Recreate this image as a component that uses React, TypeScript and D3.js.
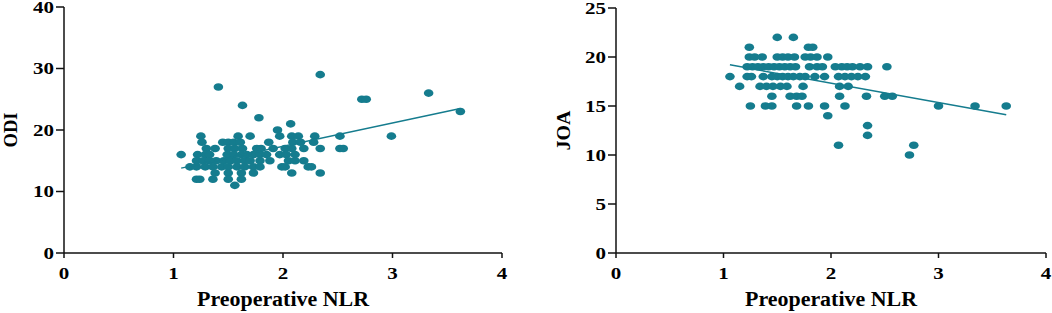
import React, { useEffect, useRef } from "react";
import * as d3 from "d3";

// Preoperative NLR vs ODI
const odiNlr = [
  2.34, 1.41, 3.33, 2.72, 2.76, 1.63, 3.62, 1.78, 2.07, 1.95,
  1.25, 1.59, 1.7, 1.97, 2.08, 2.14, 2.29, 2.52, 2.99,
  1.26, 1.45, 1.5, 1.55, 1.61, 1.87, 2.09, 2.16, 2.28,
  1.3, 1.38, 1.5, 1.56, 1.63, 1.76, 1.8, 1.91, 2.02, 2.08, 2.19, 2.34, 2.52, 2.55,
  1.07, 1.22, 1.29, 1.33, 1.49, 1.55, 1.62, 1.67, 1.73, 1.79, 1.85, 1.97, 2.03, 2.11,
  1.21, 1.27, 1.33, 1.39, 1.46, 1.52, 1.58, 1.65, 1.7, 1.79, 1.88, 2.05, 2.11, 2.19,
  1.15, 1.21, 1.29, 1.36, 1.44, 1.5, 1.58, 1.65, 1.73, 1.79, 1.99, 2.02, 2.23, 2.26,
  1.38, 1.5, 1.62, 1.73, 2.08, 2.34,
  1.21, 1.24, 1.36, 1.5, 1.62,
  1.56,
];
const odiScore = [
  29, 27, 26, 25, 25, 24, 23, 22, 21, 20,
  19, 19, 19, 19, 19, 19, 19, 19, 19,
  18, 18, 18, 18, 18, 18, 18, 18, 18,
  17, 17, 17, 17, 17, 17, 17, 17, 17, 17, 17, 17, 17, 17,
  16, 16, 16, 16, 16, 16, 16, 16, 16, 16, 16, 16, 16, 16,
  15, 15, 15, 15, 15, 15, 15, 15, 15, 15, 15, 15, 15, 15,
  14, 14, 14, 14, 14, 14, 14, 14, 14, 14, 14, 14, 14, 14,
  13, 13, 13, 13, 13, 13,
  12, 12, 12, 12, 12,
  11,
];
const odiFitX = [1.07, 3.62];
const odiFitY = [13.8, 23.5];

// Preoperative NLR vs JOA
const joaNlr = [
  1.5, 1.65,
  1.24, 1.79, 1.83,
  1.24, 1.29, 1.36, 1.5, 1.55, 1.6, 1.66, 1.76, 1.81, 1.87, 1.97,
  1.22, 1.27, 1.32, 1.37, 1.42, 1.47, 1.52, 1.57, 1.62, 1.67, 1.8, 1.87, 1.92, 2.04, 2.1, 2.15, 2.2, 2.27, 2.34, 2.52,
  1.06, 1.22, 1.26, 1.37, 1.45, 1.5, 1.55, 1.6, 1.65, 1.71, 1.76, 1.85, 1.94, 2.07, 2.13, 2.19, 2.25, 2.32,
  1.15, 1.34, 1.4, 1.46, 1.53, 1.59, 1.74, 2.08, 2.16,
  1.45, 1.62, 1.68, 1.73, 2.08, 2.33, 2.5, 2.57,
  1.25, 1.39, 1.45, 1.68, 1.79, 1.94, 2.13, 3.0, 3.34, 3.63,
  1.97, 2.34, 2.34, 2.07, 2.77, 2.73,
];
const joaScore = [
  22, 22,
  21, 21, 21,
  20, 20, 20, 20, 20, 20, 20, 20, 20, 20, 20,
  19, 19, 19, 19, 19, 19, 19, 19, 19, 19, 19, 19, 19, 19, 19, 19, 19, 19, 19, 19,
  18, 18, 18, 18, 18, 18, 18, 18, 18, 18, 18, 18, 18, 18, 18, 18, 18, 18,
  17, 17, 17, 17, 17, 17, 17, 17, 17,
  16, 16, 16, 16, 16, 16, 16, 16,
  15, 15, 15, 15, 15, 15, 15, 15, 15, 15,
  14, 13, 12, 11, 11, 10,
];
const joaFitX = [1.06, 3.63];
const joaFitY = [19.2, 14.1];

const xTicks = [0, 1, 2, 3, 4];
const odiTicks = [0, 10, 20, 30, 40];
const joaTicks = [0, 5, 10, 15, 20, 25];

const teal = "#157c8e";
const font = "'Liberation Serif', 'Times New Roman', serif";

export default function App() {
  const ref = useRef<SVGSVGElement>(null);

  useEffect(() => {
    const svg = d3.select(ref.current);
    svg.selectAll("*").remove();

    const panels = [
      { xs: odiNlr, ys: odiScore, fx: odiFitX, fy: odiFitY, yTicks: odiTicks, yMax: 40, left: 64, right: 502, top: 7, title: "ODI", titleX: 17 },
      { xs: joaNlr, ys: joaScore, fx: joaFitX, fy: joaFitY, yTicks: joaTicks, yMax: 25, left: 616, right: 1046, top: 8, title: "JOA", titleX: 570 },
    ];
    const bottom = 253;

    // bold serif, widened a bit like the source image
    const label = (sel, size, width) =>
      sel
        .attr("font-family", font)
        .attr("font-weight", "bold")
        .attr("font-size", size)
        .attr("textLength", width)
        .attr("lengthAdjust", "spacingAndGlyphs");

    panels.forEach((p) => {
      const x = d3.scaleLinear().domain([0, 4]).range([p.left, p.right]);
      const y = d3.scaleLinear().domain([0, p.yMax]).range([bottom, p.top]);
      const g = svg.append("g");

      // points
      g.selectAll("ellipse")
        .data(p.xs.map((v, i) => [v, p.ys[i]]))
        .enter()
        .append("ellipse")
        .attr("cx", (d) => x(d[0]))
        .attr("cy", (d) => y(d[1]))
        .attr("rx", 4.8)
        .attr("ry", 3.8)
        .attr("fill", teal);

      // fitted line
      const line = d3
        .line<number>()
        .x((d) => x(d))
        .y((d, i) => y(p.fy[i]));
      g.append("path")
        .attr("d", line(p.fx))
        .attr("fill", "none")
        .attr("stroke", teal)
        .attr("stroke-width", 1.5);

      // axes
      g.append("line")
        .attr("x1", p.left).attr("x2", p.left)
        .attr("y1", y(p.yMax)).attr("y2", bottom)
        .attr("stroke", "#111").attr("stroke-width", 1.5);
      g.append("line")
        .attr("x1", p.left).attr("x2", x(4))
        .attr("y1", bottom).attr("y2", bottom)
        .attr("stroke", "#111").attr("stroke-width", 1.5);

      p.yTicks.forEach((t) => {
        g.append("line")
          .attr("x1", p.left - 8).attr("x2", p.left)
          .attr("y1", y(t)).attr("y2", y(t))
          .attr("stroke", "#111").attr("stroke-width", 1.5);
        label(
          g.append("text")
            .attr("x", p.left - 10)
            .attr("y", y(t) + 5.5)
            .attr("text-anchor", "end"),
          16,
          String(t).length * 10.5
        ).text(t);
      });

      xTicks.forEach((t) => {
        g.append("line")
          .attr("x1", x(t)).attr("x2", x(t))
          .attr("y1", bottom).attr("y2", bottom + 5)
          .attr("stroke", "#111").attr("stroke-width", 1.5);
        label(
          g.append("text")
            .attr("x", x(t))
            .attr("y", 279)
            .attr("text-anchor", "middle"),
          16,
          10.5
        ).text(t);
      });

      label(
        g.append("text")
          .attr("x", (p.left + x(4)) / 2)
          .attr("y", 306)
          .attr("text-anchor", "middle"),
        20,
        172
      ).text("Preoperative NLR");

      label(
        g.append("text")
          .attr("transform", `translate(${p.titleX},${(y(p.yMax) + bottom) / 2}) rotate(-90)`)
          .attr("text-anchor", "middle"),
        19,
        p.title === "ODI" ? 35 : 40
      ).text(p.title);
    });
  }, []);

  return (
    <svg
      ref={ref}
      width={1052}
      height={313}
      style={{ position: "absolute", left: 0, top: 0, background: "#fff" }}
    />
  );
}
